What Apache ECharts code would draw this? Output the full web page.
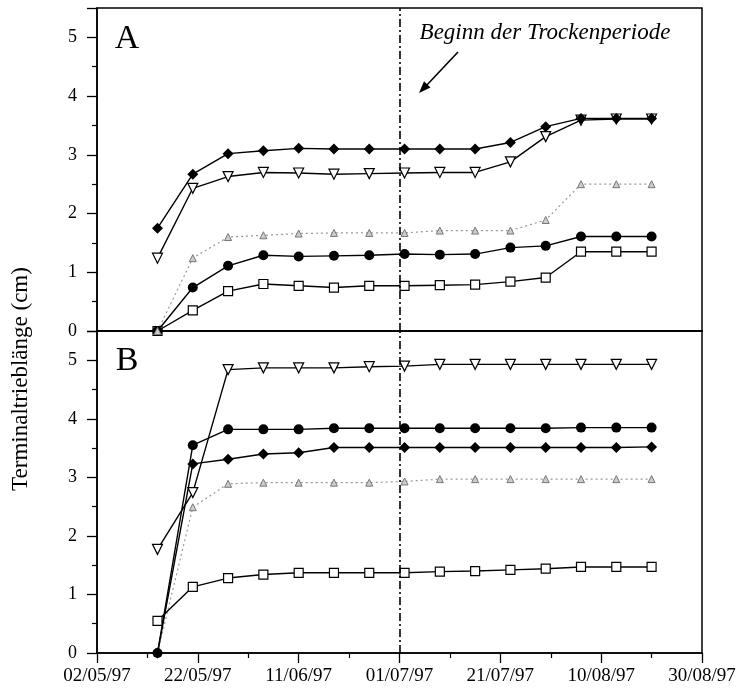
<!DOCTYPE html>
<html><head><meta charset="utf-8">
<script src="https://cdn.jsdelivr.net/npm/echarts@6/dist/echarts.min.js"></script>
<style>html,body{margin:0;padding:0;background:#fff}#c{width:739px;height:694px}</style>
</head><body><div id="c"></div>
<script>
// Measurement dates (weekly)
const dates = ['14/05/97','21/05/97','28/05/97','04/06/97','11/06/97','18/06/97','25/06/97','02/07/97','09/07/97','16/07/97','23/07/97','30/07/97','06/08/97','13/08/97','20/08/97'];
// x-axis tick labels (every 20 days from 02/05/97)
const xTickLabels = ['02/05/97','22/05/97','11/06/97','01/07/97','21/07/97','10/08/97','30/08/97'];
const droughtStart = '01/07/97';

// Panel A
const A_diamond = [1.75,2.67,3.02,3.07,3.11,3.10,3.10,3.10,3.10,3.10,3.21,3.48,3.62,3.62,3.62];
const A_triDown = [1.24,2.43,2.63,2.70,2.69,2.67,2.68,2.69,2.70,2.70,2.88,3.31,3.59,3.61,3.61];
const A_triUp   = [0,1.24,1.60,1.63,1.66,1.67,1.67,1.67,1.71,1.71,1.71,1.89,2.50,2.50,2.50];
const A_circle  = [0,0.74,1.11,1.29,1.27,1.28,1.29,1.31,1.30,1.31,1.42,1.45,1.61,1.61,1.61];
const A_square  = [0,0.35,0.68,0.80,0.77,0.74,0.77,0.77,0.78,0.79,0.84,0.91,1.35,1.35,1.35];

// Panel B
const B_diamond = [0,3.23,3.31,3.40,3.42,3.51,3.51,3.51,3.51,3.51,3.51,3.51,3.51,3.51,3.52];
const B_triDown = [1.77,2.74,4.84,4.87,4.87,4.87,4.89,4.90,4.93,4.93,4.93,4.93,4.93,4.93,4.93];
const B_triUp   = [0,2.49,2.89,2.91,2.91,2.91,2.91,2.93,2.97,2.97,2.97,2.97,2.97,2.97,2.97];
const B_circle  = [0,3.55,3.82,3.82,3.82,3.84,3.84,3.84,3.84,3.84,3.84,3.84,3.85,3.85,3.85];
const B_square  = [0.55,1.13,1.28,1.34,1.37,1.37,1.37,1.37,1.39,1.40,1.42,1.44,1.47,1.47,1.47];

const FONT = '"Liberation Serif","Times New Roman",serif';
const origin = Date.UTC(1997,4,2);
function dayOf(s){const p=s.split('/');return (Date.UTC(1900+ +p[2], +p[1]-1, +p[0]) - origin)/86400000;}
const xs = dates.map(dayOf);
const pair = arr => arr.map((v,i)=>[xs[i], v]);

const styles = {
  diamond: {symbol:'diamond', symbolSize:11, itemStyle:{color:'#000'}, lineStyle:{color:'#000', width:1.4}},
  triDown: {symbol:'triangle', symbolRotate:180, symbolSize:10, itemStyle:{color:'#fff', borderColor:'#000', borderWidth:1.2}, lineStyle:{color:'#000', width:1.4}},
  triUp:   {symbol:'triangle', symbolSize:7, itemStyle:{color:'#ccc', borderColor:'#777', borderWidth:1}, lineStyle:{color:'#999', width:1.2, type:[2,3]}},
  circle:  {symbol:'circle', symbolSize:10, itemStyle:{color:'#000'}, lineStyle:{color:'#000', width:1.4}},
  square:  {symbol:'rect', symbolSize:9, itemStyle:{color:'#fff', borderColor:'#000', borderWidth:1.2}, lineStyle:{color:'#000', width:1.4}}
};
function mk(name, data, st, g){
  return Object.assign({type:'line', name, xAxisIndex:g, yAxisIndex:g, data:pair(data), showSymbol:true, z:3}, styles[st]);
}
const vline = g => ({type:'line', xAxisIndex:g, yAxisIndex:g, data:[], markLine:{silent:true, symbol:['none','none'], label:{show:false},
  lineStyle:{color:'#000', width:1.6, type:[8,3,2,3]}, data:[{xAxis: dayOf(droughtStart)}]}});

function yAxis(g){
  return {type:'value', gridIndex:g, min:0, max:5.5, interval:1,
    axisLine:{show:true, lineStyle:{color:'#000', width:1.5}},
    axisTick:{show:true, inside:false, length:10, lineStyle:{color:'#000', width:1.3}},
    minorTick:{show:true, splitNumber:2, length:5, lineStyle:{color:'#000', width:1.2}},
    splitLine:{show:false}, minorSplitLine:{show:false},
    axisLabel:{fontFamily:FONT, fontSize:18, color:'#000', margin:20, showMaxLabel:false}};
}
function xAxis(g, labels){
  return {type:'value', gridIndex:g, min:0, max:120, interval:20,
    axisLine:{show:true, onZero:false, lineStyle:{color:'#000', width:1.5}},
    axisTick:{show:labels, length:10, lineStyle:{color:'#000', width:1.3}},
    minorTick:{show:labels, splitNumber:2, length:5, lineStyle:{color:'#000', width:1.2}},
    splitLine:{show:false},
    axisLabel:{show:labels, fontFamily:FONT, fontSize:19, color:'#000', margin:14,
      formatter: v => xTickLabels[Math.round(v/20)] || ''}};
}

const chart = echarts.init(document.getElementById('c'), null, {renderer:'canvas'});
chart.setOption({
  animation:false,
  backgroundColor:'#fff',
  grid:[
    {left:97, top:8, width:605, height:323, show:true, borderColor:'#000', borderWidth:1.5},
    {left:97, top:331, width:605, height:322, show:true, borderColor:'#000', borderWidth:1.5}
  ],
  xAxis:[xAxis(0,false), xAxis(1,true)],
  yAxis:[yAxis(0), yAxis(1)],
  series:[
    vline(0), vline(1),
    mk('A ▽', A_triDown, 'triDown', 0),
    mk('A □', A_square, 'square', 0),
    mk('A ●', A_circle, 'circle', 0),
    mk('A △', A_triUp, 'triUp', 0),
    mk('A ◆', A_diamond, 'diamond', 0),
    mk('B ▽', B_triDown, 'triDown', 1),
    mk('B △', B_triUp, 'triUp', 1),
    mk('B □', B_square, 'square', 1),
    mk('B ●', B_circle, 'circle', 1),
    mk('B ◆', B_diamond, 'diamond', 1)
  ],
  graphic:[
    {type:'text', style:{x:127, y:39, text:'A', font:'34px '+FONT, fill:'#000', textAlign:'center', textVerticalAlign:'middle'}},
    {type:'text', style:{x:127, y:361, text:'B', font:'34px '+FONT, fill:'#000', textAlign:'center', textVerticalAlign:'middle'}},
    {type:'text', style:{x:545, y:33, text:'Beginn der Trockenperiode', font:'italic 23px '+FONT, fill:'#000', textAlign:'center', textVerticalAlign:'middle'}},
    {type:'text', x:21, y:379, rotation:Math.PI/2, style:{x:0, y:0, text:'Terminaltrieblänge (cm)', font:'23px '+FONT, fill:'#000', textAlign:'center', textVerticalAlign:'middle'}},
    {type:'line', shape:{x1:458, y1:52, x2:425, y2:87}, style:{stroke:'#000', lineWidth:1.6}},
    {type:'polygon', shape:{points:[[419,93],[430.5,87.4],[424.0,81.2]]}, style:{fill:'#000'}}
  ]
});
</script></body></html>
